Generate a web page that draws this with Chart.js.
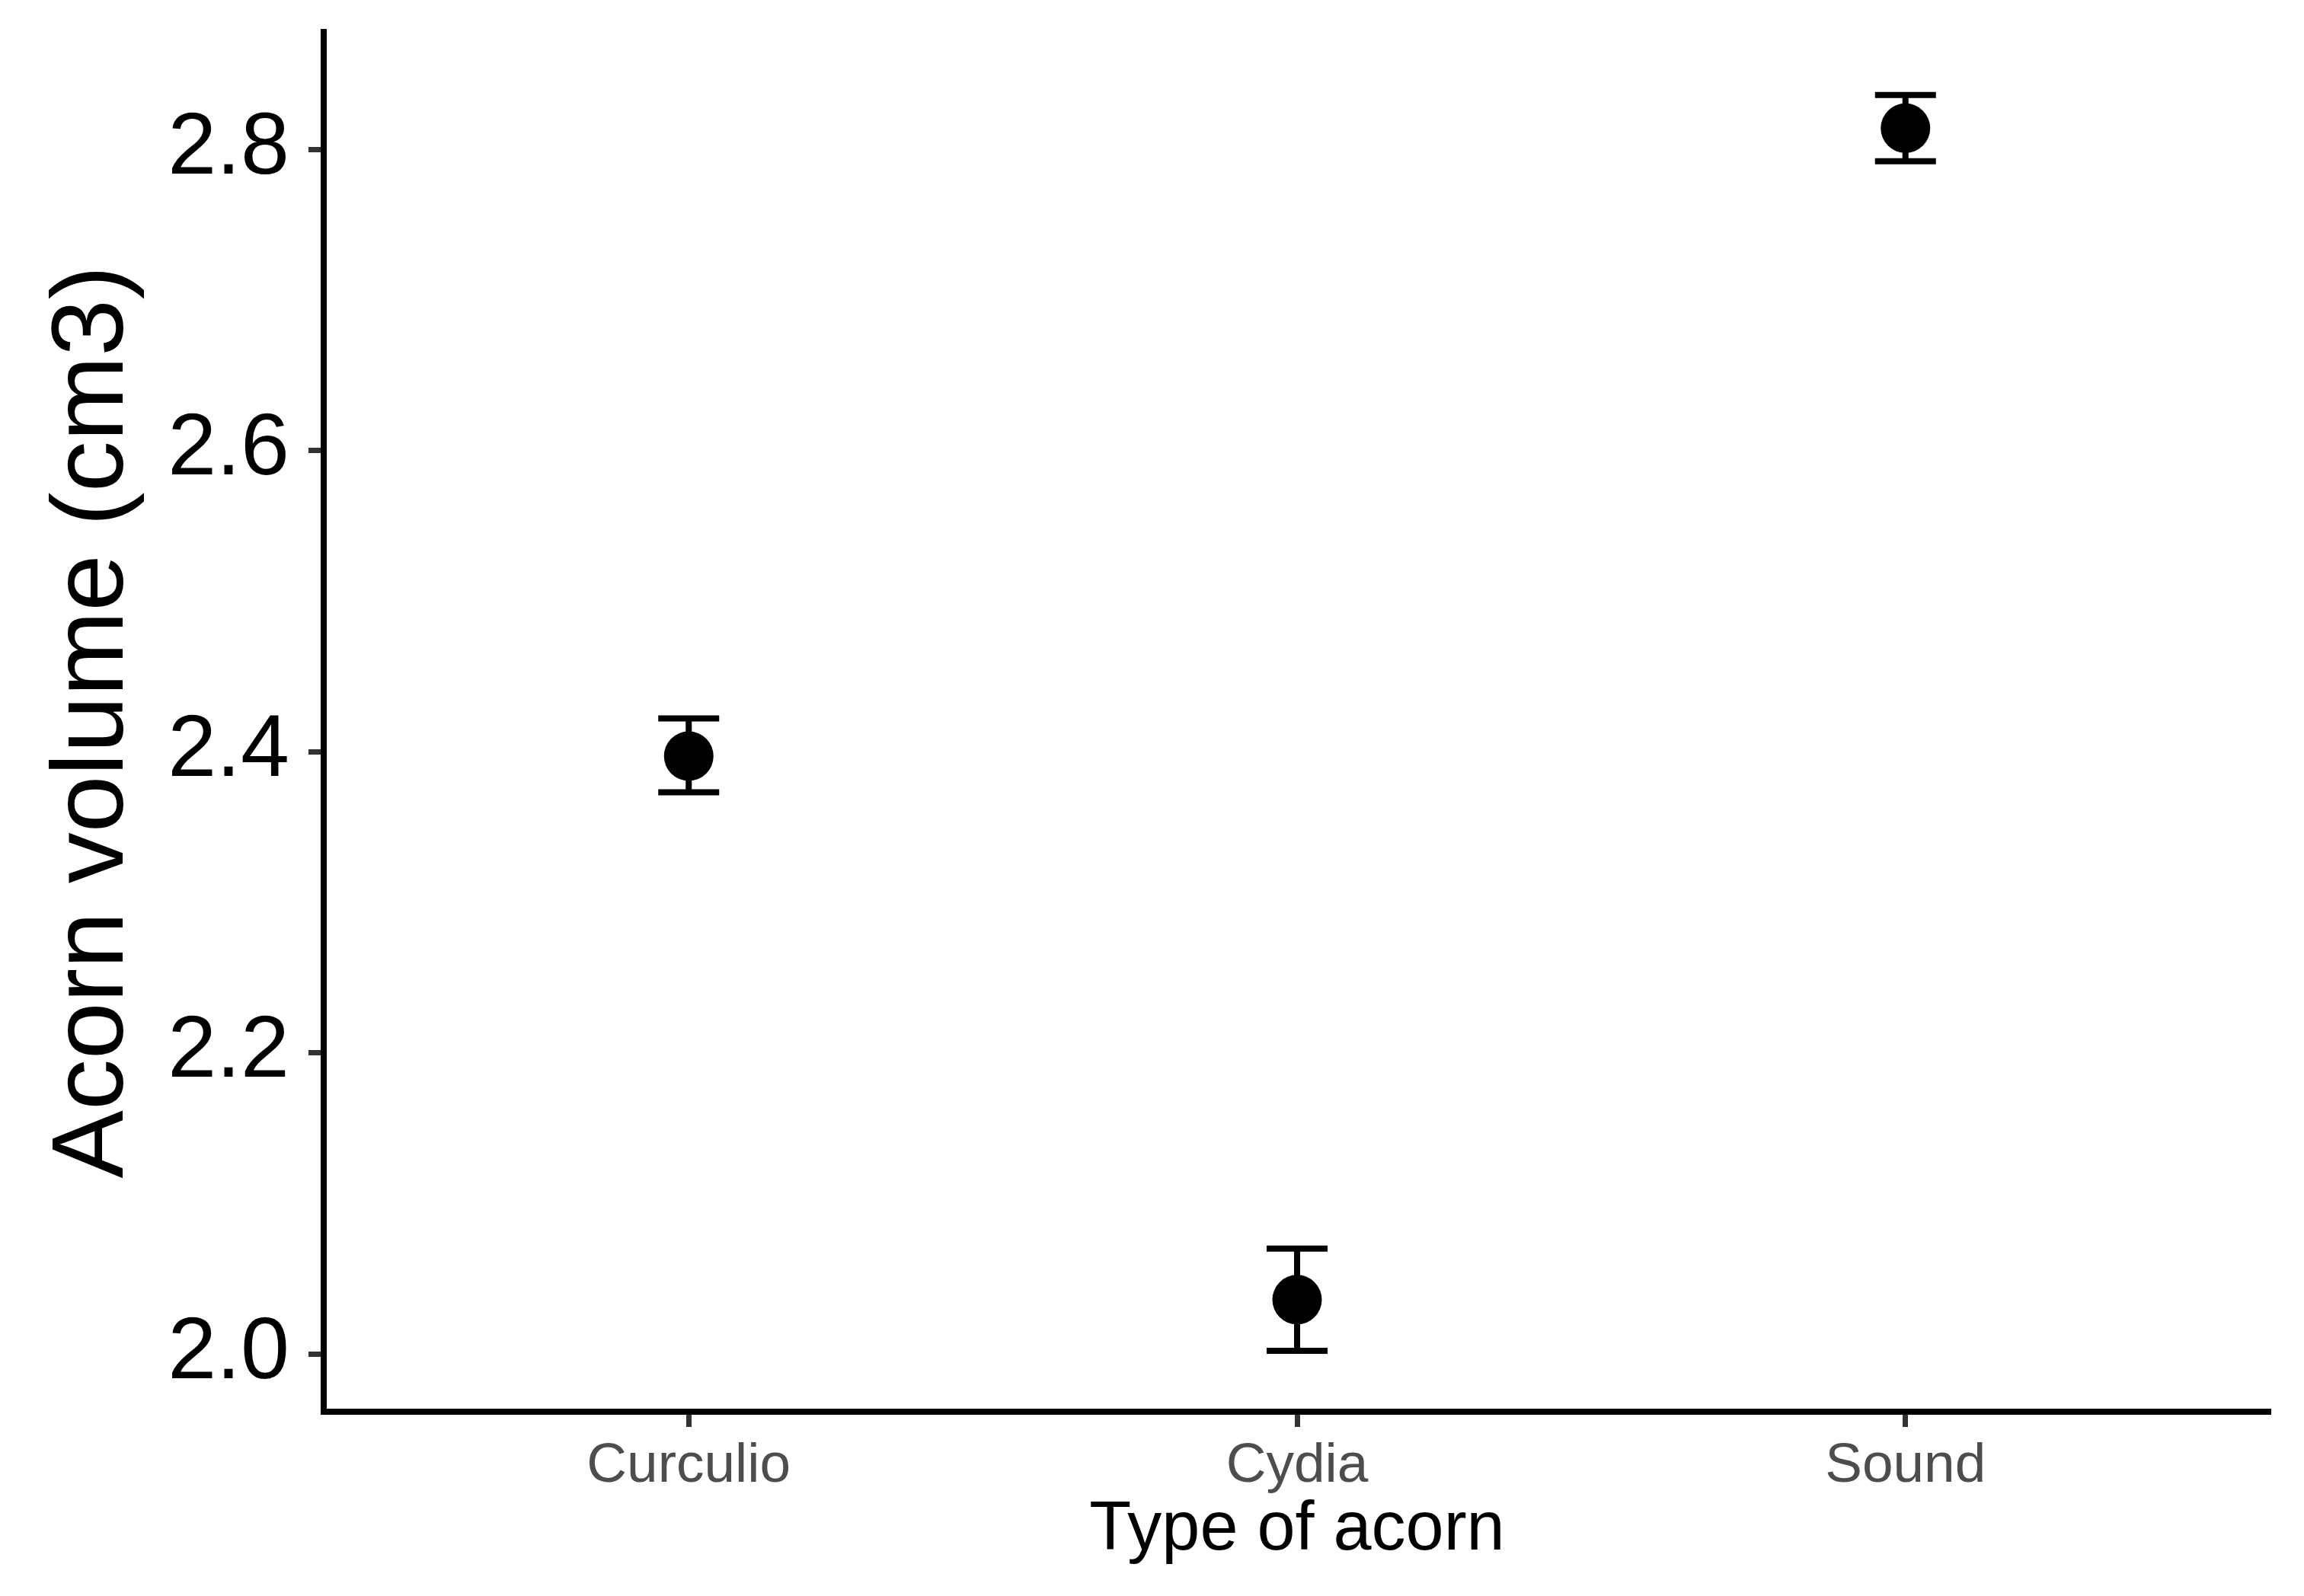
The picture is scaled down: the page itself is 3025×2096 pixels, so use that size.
<!DOCTYPE html>
<html>
<head>
<meta charset="utf-8">
<script src="https://cdn.jsdelivr.net/npm/chart.js@4.4.0/dist/chart.umd.min.js"></script>
<style>
  html, body { margin: 0; padding: 0; background: #fff; }
  #wrap { width: 3025px; height: 2096px; }
</style>
</head>
<body>
<div id="wrap"><canvas id="acornChart" width="3025" height="2096"></canvas></div>
<script>
// === DADOS ===
const categories = ['Curculio', 'Cydia', 'Sound'];
const means = [2.397, 2.036, 2.814];
const lower = [2.373, 2.002, 2.792];
const upper = [2.422, 2.070, 2.836];
const yTicks = [2.0, 2.2, 2.4, 2.6, 2.8];

const FONT = "'Liberation Sans', Arial, sans-serif";

// === BARRAS DE ERRO ===
const errorBars = {
    id: 'errorBars',
    beforeDatasetsDraw(chart) {
        const { ctx, scales: { x, y } } = chart;
        ctx.save();
        ctx.strokeStyle = '#000';
        ctx.lineWidth = 8;
        ctx.lineCap = 'butt';
        categories.forEach((c, i) => {
            const px = x.getPixelForValue(i + 1);
            const yl = y.getPixelForValue(lower[i]);
            const yu = y.getPixelForValue(upper[i]);
            ctx.beginPath();
            ctx.moveTo(px, yl); ctx.lineTo(px, yu);
            ctx.moveTo(px - 40, yl); ctx.lineTo(px + 40, yl);
            ctx.moveTo(px - 40, yu); ctx.lineTo(px + 40, yu);
            ctx.stroke();
        });
        ctx.restore();
    }
};

// === GRÁFICO ===
const ctx = document.getElementById('acornChart').getContext('2d');
new Chart(ctx, {
    type: 'scatter',
    data: {
        datasets: [{
            data: means.map((m, i) => ({ x: i + 1, y: m })),
            backgroundColor: '#000',
            borderWidth: 0,
            pointRadius: 32.5,
            pointHoverRadius: 32.5
        }]
    },
    options: {
        responsive: false,
        animation: false,
        layout: { padding: { top: 42, right: 44, left: 0, bottom: 0 } },
        plugins: { legend: { display: false }, tooltip: { enabled: false } },
        scales: {
            x: {
                type: 'linear',
                min: 0.4, max: 3.6,
                afterBuildTicks: s => { s.ticks = categories.map((c, i) => ({ value: i + 1 })); },
                afterFit: s => { s.height = 242; s.paddingLeft = 0; s.paddingRight = 0; },
                ticks: {
                    callback: v => categories[v - 1],
                    color: '#4d4d4d',
                    font: { family: FONT, size: 73, lineHeight: 1 },
                    padding: 15,
                    maxRotation: 0
                },
                grid: { drawOnChartArea: false, tickLength: 20, tickColor: '#333', tickWidth: 7 },
                border: { display: true, color: '#000', width: 8 },
                title: {
                    display: true, text: 'Type of acorn', color: '#000',
                    font: { family: FONT, size: 90, lineHeight: 1 },
                    padding: { top: 0, bottom: 41 }
                }
            },
            y: {
                min: 1.9616, max: 2.8779,
                afterBuildTicks: s => { s.ticks = yTicks.map(v => ({ value: v })); },
                afterFit: s => { s.width = 425; s.paddingTop = 0; s.paddingBottom = 0; },
                ticks: {
                    callback: v => v.toFixed(1),
                    color: '#000',
                    font: { family: FONT, size: 115, lineHeight: 1 },
                    padding: 25
                },
                grid: { drawOnChartArea: false, tickLength: 20, tickColor: '#333', tickWidth: 7 },
                border: { display: true, color: '#000', width: 8 },
                title: {
                    display: true, text: 'Acorn volume (cm3)', color: '#000',
                    font: { family: FONT, size: 134, lineHeight: 1 },
                    padding: { top: 57, bottom: 0 }
                }
            }
        }
    },
    plugins: [errorBars]
});
</script>
</body>
</html>
